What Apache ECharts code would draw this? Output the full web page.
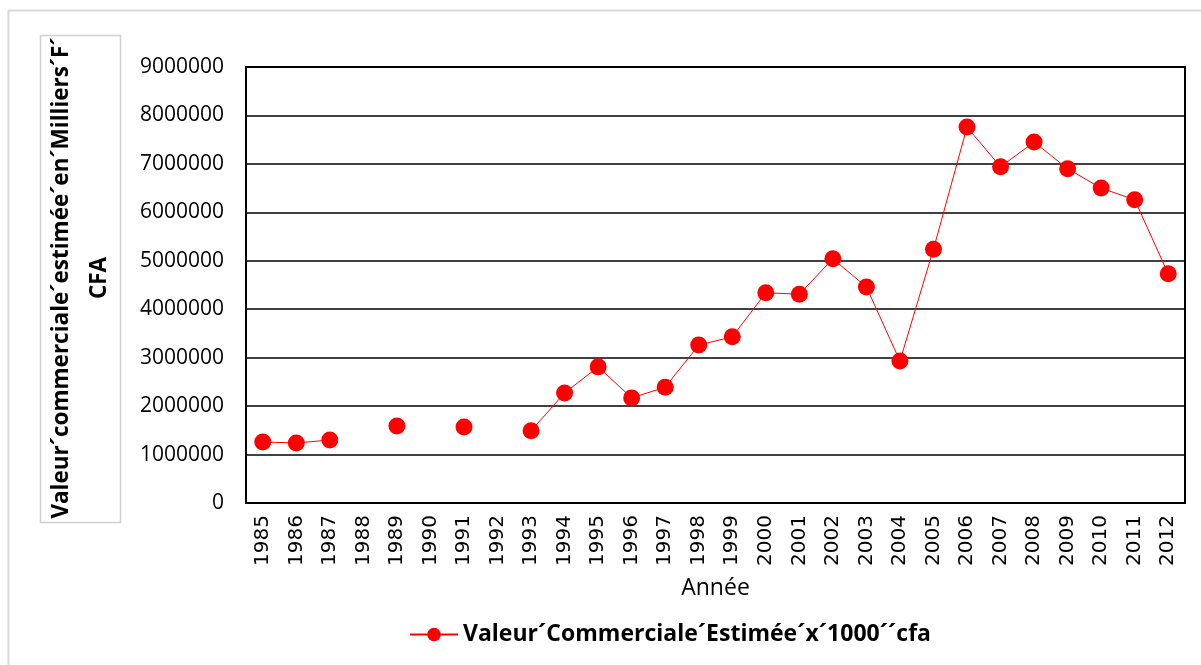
<!DOCTYPE html>
<html>
<head>
    <meta charset="UTF-8">
    <title>Valeur commerciale</title>
    <script src="https://cdn.jsdelivr.net/npm/echarts@6/dist/echarts.min.js"></script>
</head>
<body style="margin:0;background:#fff;">
    <div id="chartBox" style="width:1201px;height:665px;"></div>
    <script>
        // annees
        var years = ['1985', '1986', '1987', '1988', '1989', '1990', '1991', '1992', '1993', '1994',
            '1995', '1996', '1997', '1998', '1999', '2000', '2001', '2002', '2003', '2004',
            '2005', '2006', '2007', '2008', '2009', '2010', '2011', '2012'];
        // valeur estimee (x1000 cfa), null = pas de donnee
        var valeurs = [1260000, 1240000, 1300000, null, 1590000, null, 1570000, null, 1490000, 2270000,
            2810000, 2170000, 2390000, 3260000, 3430000, 4340000, 4310000, 5040000, 4460000, 2930000,
            5240000, 7760000, 6940000, 7450000, 6900000, 6500000, 6260000, 4730000];
        var seriesName = 'Valeur´Commerciale´Estimée´x´1000´´cfa';
        var yTitle = 'Valeur´commerciale´estimée´en´Milliers´F´\nCFA';

        var myChart = echarts.init(document.getElementById('chartBox'));

        var option = {
            animation: false,
            graphic: [{
                type: 'rect',
                shape: { x: 8.5, y: 10.5, width: 1300, height: 700 },
                style: { fill: 'none', stroke: '#d9d9d9', lineWidth: 2 }
            }, {
                type: 'rect',
                shape: { x: 40.5, y: 35.5, width: 80, height: 487 },
                style: { fill: '#fff', stroke: '#d0d0d0', lineWidth: 1.5 }
            }, {
                type: 'text',
                x: 81,
                y: 278,
                rotation: Math.PI / 2,
                style: {
                    text: yTitle,
                    fill: '#000',
                    font: 'bold 22.5px "Open Sans"',
                    align: 'center',
                    verticalAlign: 'middle',
                    lineHeight: 38
                }
            }],
            grid: {
                left: 246,
                right: 16,
                top: 67,
                bottom: 162,
                show: true,
                borderColor: '#000',
                borderWidth: 2
            },
            legend: {
                bottom: 14,
                left: 404,
                itemWidth: 48,
                itemHeight: 17,
                itemGap: 10,
                textStyle: {
                    fontFamily: 'Open Sans',
                    fontWeight: 'bold',
                    fontSize: 23,
                    color: '#000'
                },
                data: [seriesName]
            },
            xAxis: {
                type: 'category',
                data: years,
                boundaryGap: true,
                name: 'Année',
                nameLocation: 'middle',
                nameGap: 74,
                nameTextStyle: {
                    fontFamily: 'Open Sans',
                    fontSize: 23,
                    color: '#000'
                },
                axisLine: { lineStyle: { color: '#000', width: 2 } },
                axisTick: { show: false },
                axisLabel: {
                    rotate: 90,
                    interval: 0,
                    margin: 12,
                    fontFamily: 'DejaVu Sans',
                    fontSize: 20,
                    color: '#000'
                }
            },
            yAxis: {
                type: 'value',
                min: 0,
                max: 9000000,
                interval: 1000000,
                axisLine: { show: true, lineStyle: { color: '#000', width: 2 } },
                axisTick: { show: false },
                splitLine: { lineStyle: { color: '#000', width: 1.5 } },
                axisLabel: {
                    margin: 22,
                    fontFamily: 'Open Sans',
                    fontSize: 21,
                    color: '#000',
                    formatter: function (v) { return String(v); }
                }
            },
            series: [{
                name: seriesName,
                type: 'line',
                data: valeurs,
                connectNulls: false,
                symbol: 'circle',
                symbolSize: 17,
                showAllSymbol: true,
                itemStyle: { color: '#ff0000' },
                lineStyle: { color: '#ff0000', width: 1 }
            }]
        };

        myChart.setOption(option);
    </script>
</body>
</html>
